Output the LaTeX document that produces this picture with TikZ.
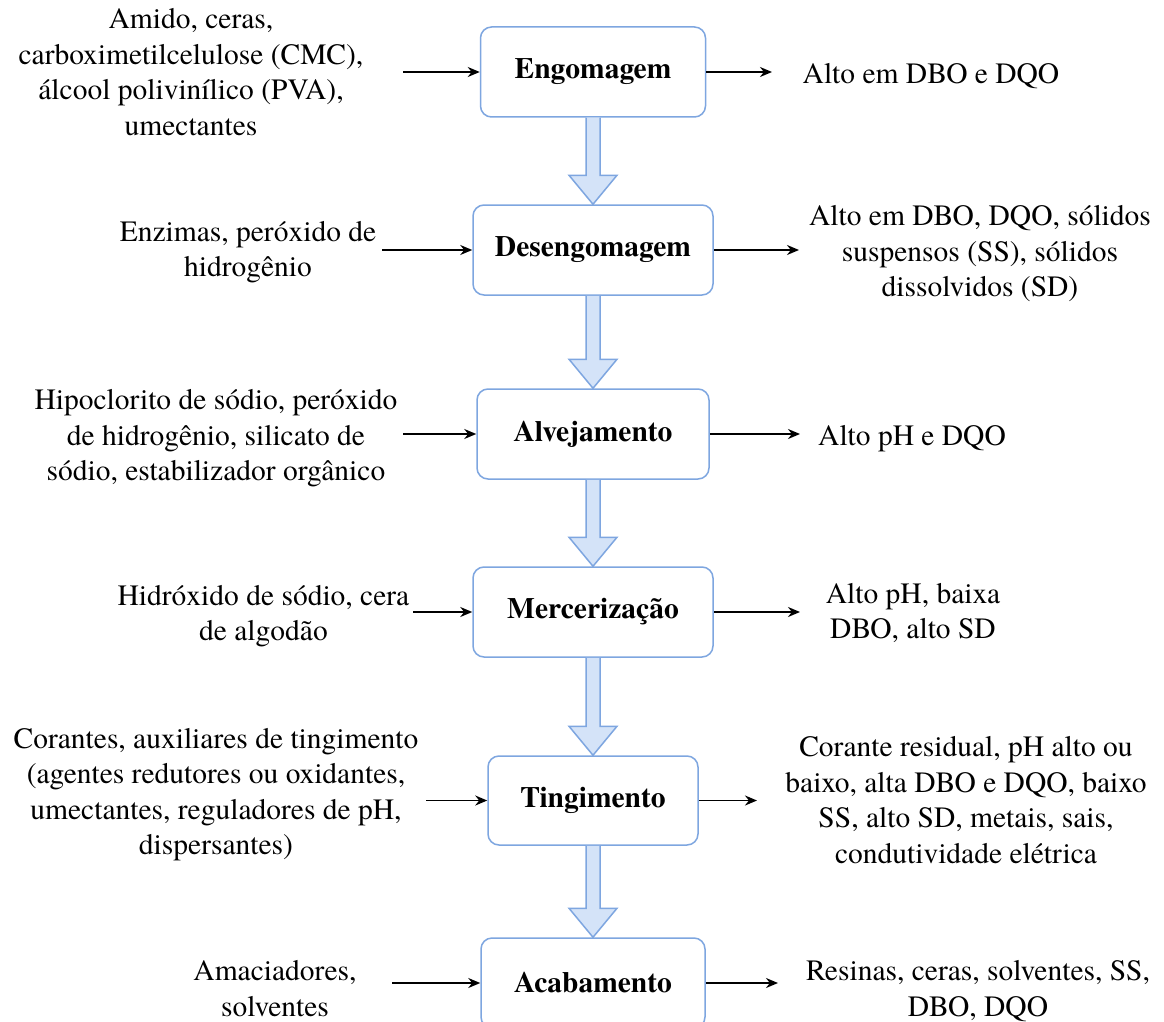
\documentclass[tikz,border=0pt]{standalone}
\usepackage{fontspec}
\setmainfont{TeX Gyre Termes}
\usetikzlibrary{arrows.meta,calc}
\definecolor{boxline}{HTML}{7EA6E0}
\definecolor{arrfill}{HTML}{D4E3F8}
\definecolor{arrline}{HTML}{7EA6E0}
\newcommand\blockarrow[2]{%
  \fill[arrfill] ($(#1.south)+(-7,0)$) -- ($(#1.south |- #2.north)+(-7,-29)$) -- ($(#1.south |- #2.north)+(-24,-29)$) -- (#1.south |- #2.north) -- ($(#1.south |- #2.north)+(24,-29)$) -- ($(#1.south |- #2.north)+(7,-29)$) -- ($(#1.south)+(7,0)$) -- cycle;
  \draw[blk] ($(#1.south)+(-7,0)$) -- ($(#1.south |- #2.north)+(-7,-29)$) -- ($(#1.south |- #2.north)+(-24,-29)$) -- (#1.south |- #2.north) -- ($(#1.south |- #2.north)+(24,-29)$) -- ($(#1.south |- #2.north)+(7,-29)$) -- ($(#1.south)+(7,0)$);}
\begin{document}
\begin{tikzpicture}[x=1pt,y=-1pt,
  stage/.style={draw=boxline, line width=1.5pt, fill=white, rounded corners=11pt, font=\fontsize{29.5}{35.5}\selectfont\bfseries, inner sep=0pt},
  lbl/.style={align=center, font=\fontsize{29.5}{35.5}\selectfont, inner sep=0pt},
  thin/.style={line width=1.8pt, -{Stealth[length=12pt,width=10pt]}},
  blk/.style={draw=arrline, line width=1.5pt, line join=miter}]
\clip (0,0) rectangle (1164,1022);
\fill[white] (0,0) rectangle (1164,1022);

% stages
\node[stage, minimum width=225pt, minimum height=90pt] (eng) at (593,72) {Engomagem};
\node[stage, minimum width=240pt, minimum height=90pt] (des) at (593,250) {Desengomagem};
\node[stage, minimum width=232pt, minimum height=90pt] (alv) at (593,434) {Alvejamento};
\node[stage, minimum width=240pt, minimum height=90pt] (mer) at (593,612) {Mercerização};
\node[stage, minimum width=210pt, minimum height=89pt] (tin) at (593,800.5) {Tingimento};
\node[stage, minimum width=224pt, minimum height=90pt] (aca) at (593,983) {Acabamento};

% block arrows
\blockarrow{eng}{des}
\blockarrow{des}{alv}
\blockarrow{alv}{mer}
\blockarrow{mer}{tin}
\blockarrow{tin}{aca}

% input labels
\node[lbl] (in1) at (191,72.2) {Amido, ceras,\\carboximetilcelulose (CMC),\\álcool polivinílico (PVA),\\umectantes};
\node[lbl] (in2) at (248,251.9) {Enzimas, peróxido de\\hidrogênio};
\node[lbl] (in3) at (216,438.6) {Hipoclorito de sódio, peróxido\\de hidrogênio, silicato de\\sódio, estabilizador orgânico};
\node[lbl] (in4) at (263.5,615.9) {Hidróxido de sódio, cera\\de algodão};
\node[lbl] (in5) at (216,794.4) {Corantes, auxiliares de tingimento\\(agentes redutores ou oxidantes,\\umectantes, reguladores de pH,\\dispersantes)};
\node[lbl] (in6) at (275,988.5) {Amaciadores,\\solventes};

% output labels
\node[lbl] (out1) at (931,76.2) {Alto em DBO e DQO};
\node[lbl] (out2) at (980,253.6) {Alto em DBO, DQO, sólidos\\suspensos (SS), sólidos\\dissolvidos (SD)};
\node[lbl] (out3) at (912,438.2) {Alto pH e DQO};
\node[lbl] (out4) at (913,612.8) {Alto pH, baixa\\DBO, alto SD};
\node[lbl] (out5) at (966,800.2) {Corante residual, pH alto ou\\baixo, alta DBO e DQO, baixo\\SS, alto SD, metais, sais,\\condutividade elétrica};
\node[lbl] (out6) at (978,991) {Resinas, ceras, solventes, SS,\\DBO, DQO};

% arrow free ends
\coordinate (a1) at (403,72);
\coordinate (a2) at (382,250);
\coordinate (a3) at (403,434);
\coordinate (a4) at (413,612);
\coordinate (a5) at (426,800.5);
\coordinate (a6) at (392,983);
\coordinate (b1) at (772,72);
\coordinate (b2) at (799,250);
\coordinate (b3) at (800,434);
\coordinate (b4) at (800,612);
\coordinate (b5) at (757,800.5);
\coordinate (b6) at (778,983);

\draw[thin] (a1) -- (eng.west);
\draw[thin] (a2) -- (des.west);
\draw[thin] (a3) -- (alv.west);
\draw[thin] (a4) -- (mer.west);
\draw[thin] (a5) -- (tin.west);
\draw[thin] (a6) -- (aca.west);
\draw[thin] (eng.east) -- (b1);
\draw[thin] (des.east) -- (b2);
\draw[thin] (alv.east) -- (b3);
\draw[thin] (mer.east) -- (b4);
\draw[thin] (tin.east) -- (b5);
\draw[thin] (aca.east) -- (b6);
\end{tikzpicture}
\end{document}
